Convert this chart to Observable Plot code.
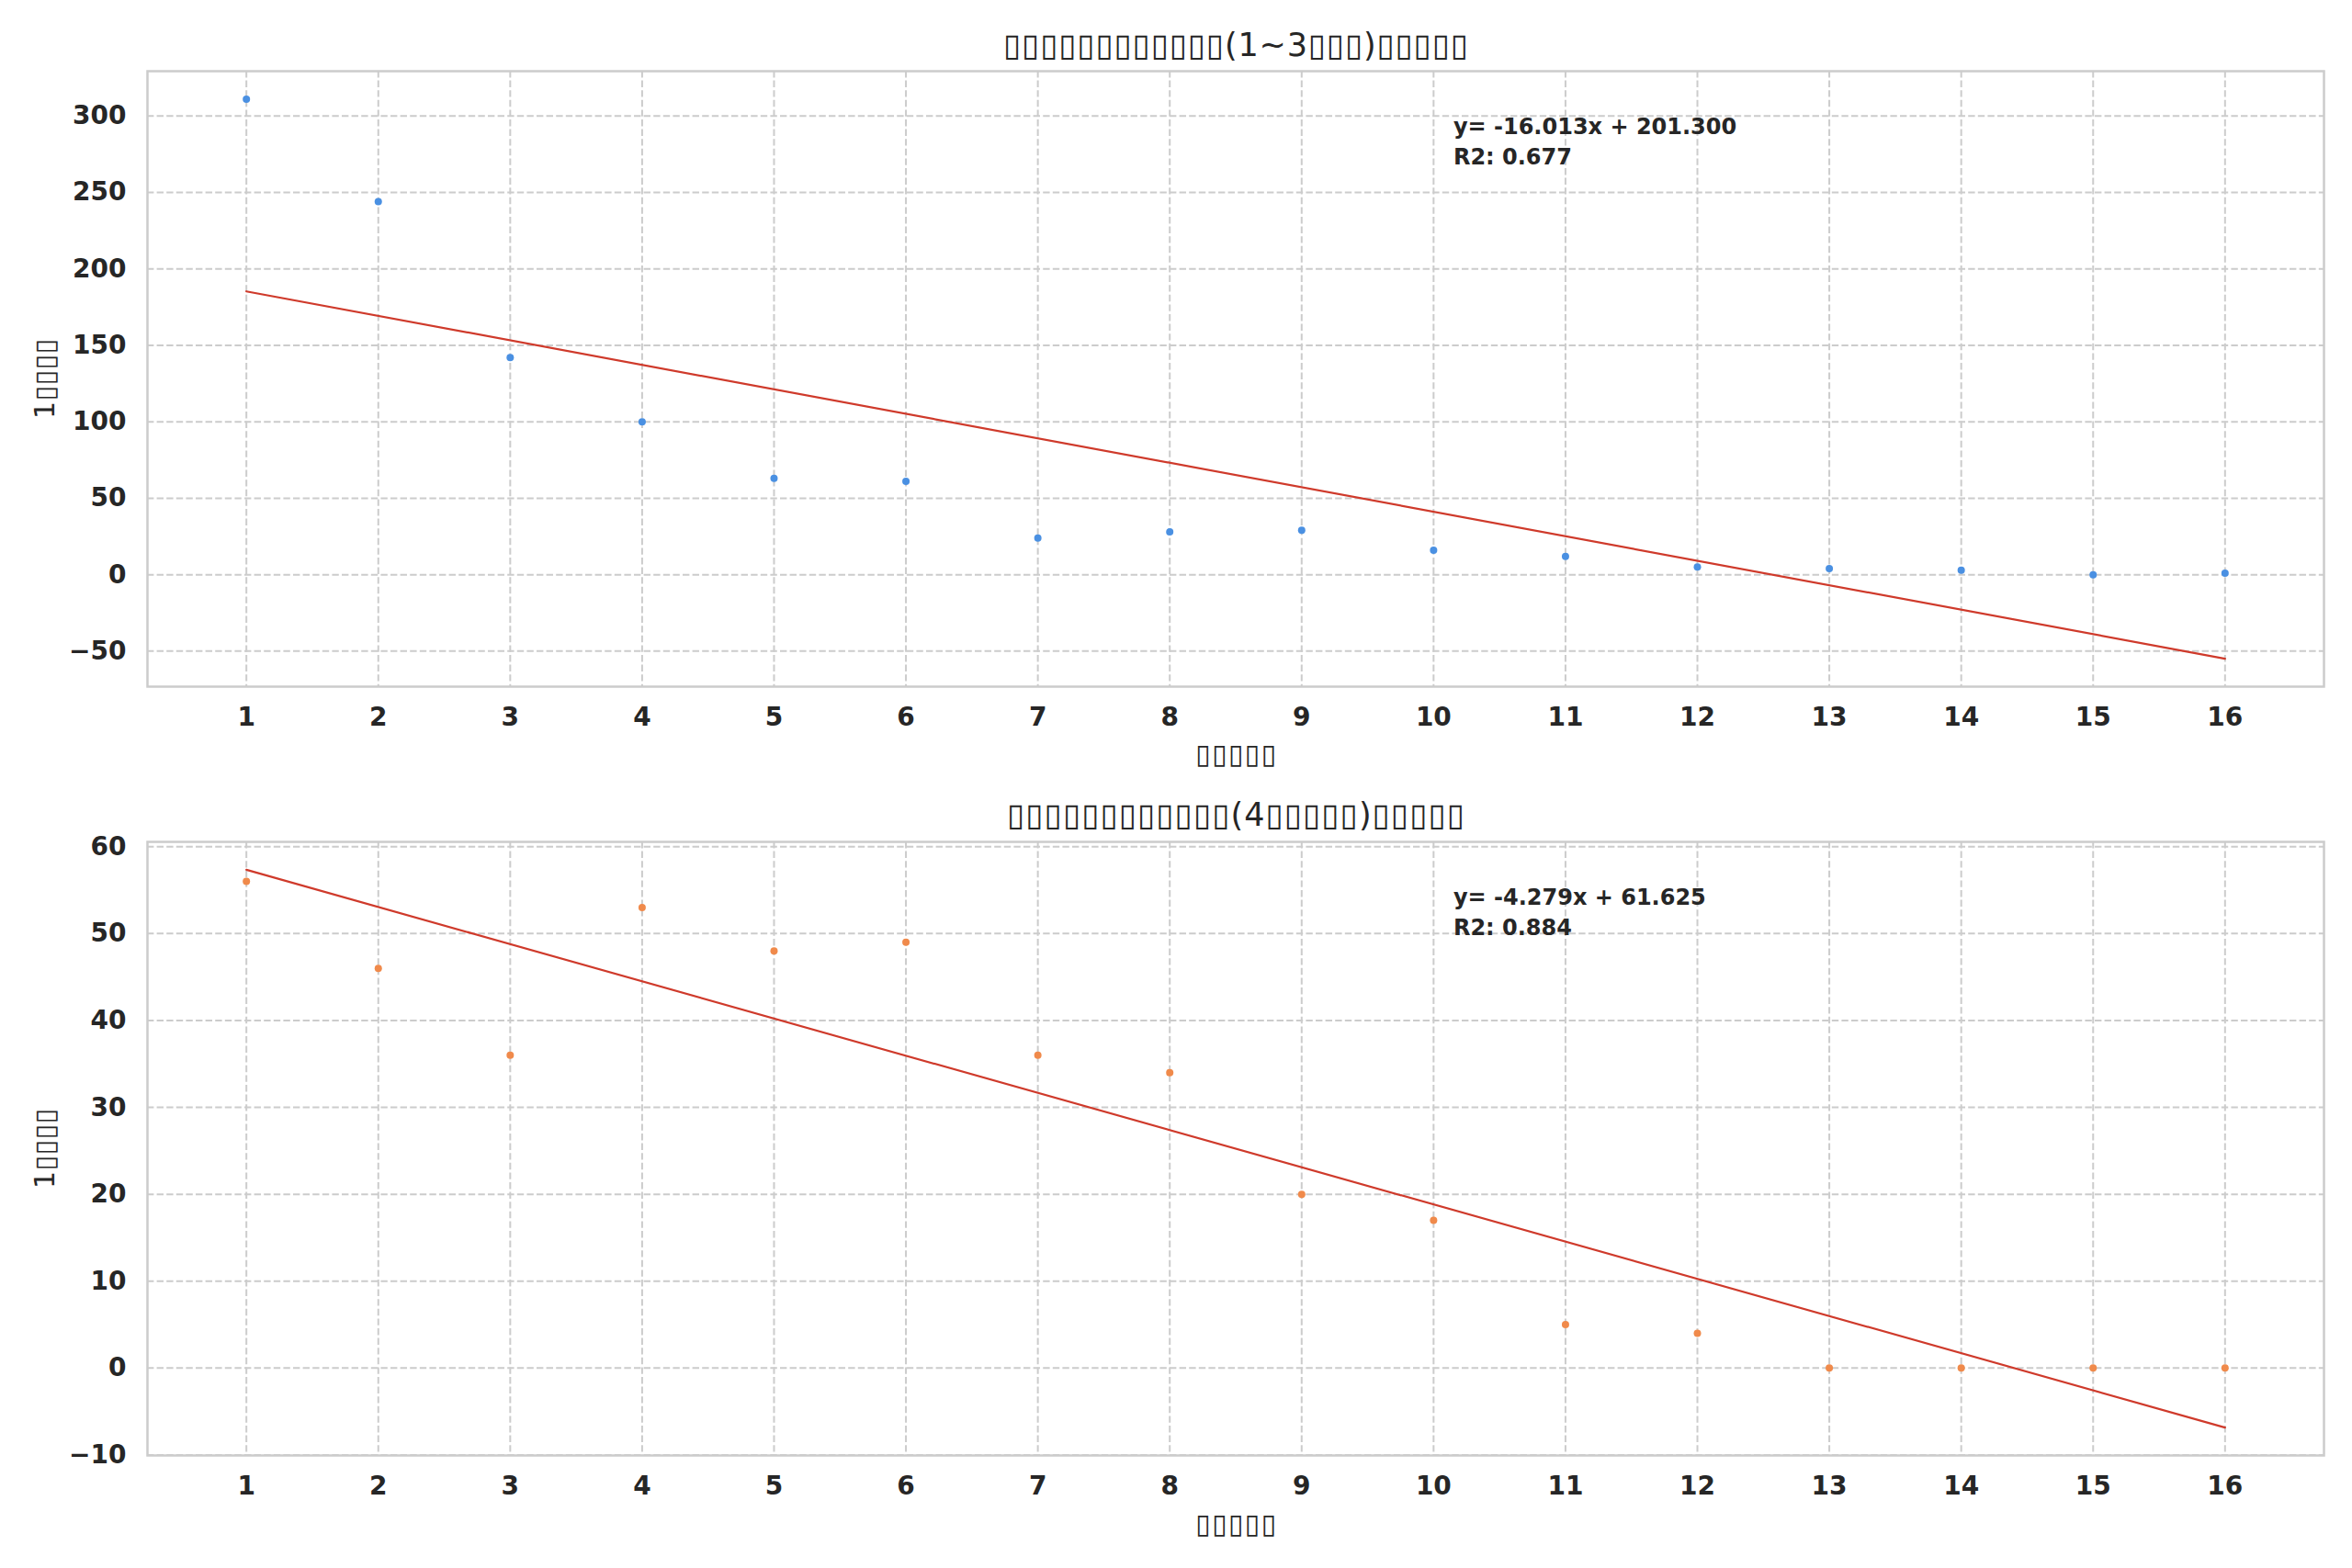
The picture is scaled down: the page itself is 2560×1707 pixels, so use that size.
<!DOCTYPE html>
<html><head><meta charset="utf-8">
<script src="https://cdn.jsdelivr.net/npm/d3@7"></script>
<script src="https://cdn.jsdelivr.net/npm/@observablehq/plot@0.6"></script>
<style>
html,body{margin:0;padding:0;background:#fff;}
svg{display:block;}
</style></head><body><div id="c"></div>
<script>
const days = [1,2,3,4,5,6,7,8,9,10,11,12,13,14,15,16];
const topValues = [311,244,142,100,63,61,24,28,29,16,12,5,4,3,0,1];
const bottomValues = [56,46,36,53,48,49,36,34,20,17,5,4,0,0,0,0];
const topYTicks = [-50,0,50,100,150,200,250,300];
const bottomYTicks = [-10,0,10,20,30,40,50,60];
const topTitle = "▯▯▯▯▯▯▯▯▯▯▯▯(1~3▯▯▯)▯▯▯▯▯";
const bottomTitle = "▯▯▯▯▯▯▯▯▯▯▯▯(4▯▯▯▯▯)▯▯▯▯▯";
const yLabel = "1▯▯▯▯";
const xLabel = "▯▯▯▯▯";

function fit(xs, ys) {
  const n = xs.length, mx = d3.mean(xs), my = d3.mean(ys);
  let sxy = 0, sxx = 0, syy = 0;
  for (let i = 0; i < n; i++) { sxy += (xs[i]-mx)*(ys[i]-my); sxx += (xs[i]-mx)**2; syy += (ys[i]-my)**2; }
  const slope = sxy/sxx, intercept = my - slope*mx;
  return {slope, intercept, r2: (sxy*sxy)/(sxx*syy)};
}
const minus = d => d < 0 ? "\u2212" + Math.abs(d) : String(d);

function chart({values, color, yTicks, title, titleWidth, height, marginTop, marginBottom, titleDy, xLabelDy}) {
  const data = days.map((d, i) => ({x: d, y: values[i]}));
  const {slope, intercept, r2} = fit(days, values);
  const ends = [days[0], days[days.length-1]];
  const line = ends.map(x => ({x, y: slope*x + intercept}));
  const xPad = (ends[1]-ends[0])*0.05;
  const xDomain = [ends[0]-xPad, ends[1]+xPad];
  const allY = values.concat(line.map(d => d.y));
  const lo = d3.min(allY), hi = d3.max(allY), yPad = (hi-lo)*0.05;
  const ann = `y= ${slope.toFixed(3)}x + ${intercept.toFixed(3)}\nR2: ${r2.toFixed(3)}`;
  const annX = xDomain[0] + 0.6*(xDomain[1]-xDomain[0]);
  const grid = {stroke: "#cccccc", strokeOpacity: 1, strokeWidth: 2, strokeDasharray: "7.4,3.2"};
  const svg = Plot.plot({
    width: 2560, height, marginLeft: 160, marginRight: 31, marginTop, marginBottom,
    style: {fontFamily: "DejaVu Sans", color: "#262626", background: "#ffffff", overflow: "visible"},
    x: {domain: xDomain},
    y: {domain: [lo - yPad, hi + yPad]},
    marks: [
      Plot.gridX(days, grid),
      Plot.gridY(yTicks, grid),
      Plot.frame({stroke: "#cccccc", strokeWidth: 2.5}),
      Plot.axisX(days, {tickSize: 0, tickPadding: 23, fontSize: 28, fontWeight: "bold", label: null, tickFormat: d => String(d)}),
      Plot.axisY(yTicks, {tickSize: 0, tickPadding: 23, fontSize: 28, fontWeight: "bold", label: null, tickFormat: minus}),
      Plot.dot(data, {x: "x", y: "y", r: 4, fill: color}),
      Plot.line(line, {x: "x", y: "y", stroke: "#cf3a2b", strokeWidth: 2.2}),
      Plot.text([ann], {x: () => annX, frameAnchor: "top", dy: 74, textAnchor: "start", lineAnchor: "middle", lineHeight: 1.375, fontSize: 24, fontWeight: "bold", text: d => d}),
      Plot.text([title], {frameAnchor: "top", dy: titleDy, fontSize: 35, textAnchor: "middle", lineAnchor: "middle", text: d => d}),
      Plot.text([xLabel], {frameAnchor: "bottom", dy: xLabelDy, fontSize: 30, textAnchor: "middle", lineAnchor: "middle", text: d => d}),
      Plot.text([yLabel], {frameAnchor: "left", dx: -111, rotate: -90, fontSize: 30, textAnchor: "middle", lineAnchor: "middle", text: d => d})
    ]
  });
  const widths = new Map([[title, titleWidth], [xLabel, 88], [yLabel, 87]]);
  d3.select(svg).selectAll("text").each(function() {
    const w = widths.get(this.textContent);
    if (w) d3.select(this).attr("textLength", w).attr("lengthAdjust", "spacing");
  });
  return svg;
}

const c = document.getElementById("c");
c.appendChild(chart({values: topValues, color: "#4a90e2", yTicks: topYTicks, title: topTitle, titleWidth: 506, height: 853, marginTop: 77, marginBottom: 106, titleDy: -28, xLabelDy: 74}));
c.appendChild(chart({values: bottomValues, color: "#f08a4b", yTicks: bottomYTicks, title: bottomTitle, titleWidth: 498, height: 854, marginTop: 63, marginBottom: 123, titleDy: -29, xLabelDy: 75}));
</script></body></html>
